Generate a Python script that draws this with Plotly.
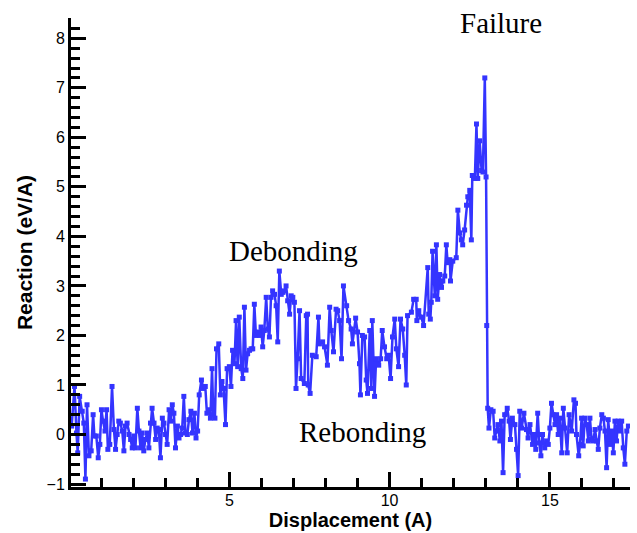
import plotly.graph_objects as go

# Displacement (A) and Reaction (eV/A)
disp = [
    0.08, 0.17, 0.23, 0.27, 0.33, 0.41, 0.46, 0.51, 0.56, 0.62, 0.69, 0.75, 0.79, 0.85, 0.91, 0.96,
    1.01, 1.06, 1.12, 1.17, 1.21, 1.27, 1.34, 1.40, 1.45, 1.50, 1.55, 1.60, 1.66, 1.71, 1.76, 1.81,
    1.87, 1.92, 1.97, 2.02, 2.07, 2.13, 2.18, 2.23, 2.28, 2.33, 2.38, 2.44, 2.49, 2.54, 2.59, 2.65,
    2.70, 2.75, 2.80, 2.85, 2.91, 2.96, 3.01, 3.06, 3.12, 3.17, 3.22, 3.27, 3.32, 3.38, 3.43, 3.48,
    3.53, 3.58, 3.63, 3.69, 3.74,
    3.80, 3.85, 3.91, 3.96, 4.01, 4.06, 4.13, 4.19, 4.25, 4.30, 4.35, 4.41, 4.46, 4.50, 4.55, 4.60,
    4.67, 4.72, 4.77, 4.82, 4.88, 4.93, 5.00, 5.05, 5.10, 5.16, 5.21, 5.26, 5.31, 5.37, 5.42, 5.47,
    5.52, 5.57, 5.63, 5.68, 5.73, 5.78, 5.83, 5.88, 5.94, 5.99, 6.04, 6.09, 6.15, 6.20, 6.25, 6.30,
    6.35, 6.41, 6.46, 6.51, 6.56, 6.62, 6.67, 6.72, 6.77, 6.82, 6.88, 6.93, 6.98, 7.03, 7.08, 7.13,
    7.19,
    7.24, 7.34, 7.40, 7.44, 7.46, 7.52, 7.59, 7.71, 7.78, 7.81, 7.91, 7.97, 8.06, 8.13, 8.18, 8.25,
    8.33, 8.38, 8.44, 8.50, 8.56, 8.66, 8.72, 8.80, 8.84, 8.94, 9.00, 9.06, 9.09, 9.15, 9.22, 9.27,
    9.31, 9.38, 9.43, 9.46, 9.53, 9.58, 9.66, 9.72, 9.77, 9.84, 9.91, 9.97, 10.03, 10.09, 10.16, 10.21,
    10.28, 10.34, 10.41, 10.47, 10.52, 10.56,
    10.68, 10.75, 10.83, 10.85, 10.91, 10.99, 11.06, 11.19, 11.22, 11.27, 11.30, 11.34, 11.41, 11.46,
    11.50, 11.56, 11.62, 11.66, 11.72, 11.77, 11.81, 11.88, 11.90, 11.97, 12.08, 12.13, 12.19, 12.24,
    12.28, 12.34, 12.40, 12.44, 12.50, 12.55, 12.58, 12.66, 12.71, 12.75, 12.81, 12.87, 12.91, 12.97,
    13.01, 13.03, 13.06,
    13.10, 13.16, 13.23, 13.28, 13.33, 13.38, 13.44, 13.49, 13.54, 13.59, 13.67, 13.73, 13.77, 13.83,
    13.91, 13.96, 14.01, 14.06, 14.12, 14.19, 14.27, 14.32, 14.38, 14.46, 14.51, 14.56, 14.62, 14.67,
    14.72, 14.77, 14.84, 14.90, 14.95, 15.00, 15.05, 15.10, 15.16, 15.21, 15.26, 15.31, 15.37, 15.42,
    15.47, 15.54, 15.60, 15.68, 15.75, 15.80, 15.83, 15.90, 15.94, 15.99, 16.04, 16.09, 16.15, 16.20,
    16.25, 16.30, 16.35, 16.41, 16.46, 16.51, 16.56, 16.62, 16.67, 16.72, 16.77, 16.82, 16.88, 16.93,
    16.98, 17.03, 17.08, 17.13, 17.19, 17.24, 17.29, 17.34, 17.40, 17.45,
]
reaction = [
    0.17, 0.97, 0.03, -0.37, 0.77, 0.47, 0.23, -0.9, 0.6, -0.43, -0.33, 0.4, -0.03, -0.03, -0.47, -0.2,
    0.5, 0.27, 0.07, 0.5, -0.3, -0.2, 0.97, 0.1, -0.3, 0.0, 0.27, 0.23, 0.07, -0.33, 0.17, 0.23,
    0.0, -0.1, -0.27, -0.03, -0.27, 0.53, 0.07, -0.27, 0.03, -0.33, -0.1, 0.03, -0.27, 0.23, 0.53, 0.23,
    -0.1, 0.13, 0.1, -0.47, 0.33, 0.23, 0.0, -0.2, 0.5, 0.27, 0.6, 0.43, -0.27, 0.17, -0.07, 0.0,
    0.13, 0.77, 0.03, 0.0, 0.3,
    0.47, 0.03, 0.43, -0.07, 0.07, 0.8, 1.1, 0.93, 0.97, 0.43, 0.5, 0.33, 1.33, 0.4, 0.33, 1.73,
    1.83, 0.8, 1.07, 0.93, 0.2, 1.33, 1.37, 0.97, 1.7, 1.43, 2.3, 1.37, 2.37, 1.33, 1.13, 2.57,
    1.3, 1.63, 1.7, 1.73, 1.73, 2.63, 2.0, 2.07, 2.0, 2.17, 1.77, 2.1, 2.77, 2.13, 1.97, 2.77,
    2.9, 2.83, 2.6, 1.87, 3.3, 2.83, 2.87, 2.9, 3.0, 2.7, 2.43, 2.8, 2.77, 2.67, 0.93, 1.53,
    2.5,
    1.13, 1.03, 2.4, 2.43, 1.0, 0.83, 1.6, 1.57, 2.37, 1.83, 1.87, 1.77, 1.4, 2.57, 2.1, 1.67,
    2.53, 2.5, 2.3, 1.53, 3.0, 2.6, 2.3, 2.13, 1.83, 2.35, 2.07, 1.43, 0.8, 2.0, 1.97, 1.1,
    0.83, 2.1, 0.93, 2.3, 0.77, 1.53, 1.4, 1.53, 2.1, 1.77, 1.53, 1.6, 1.13, 1.97, 2.33, 1.73,
    1.37, 2.33, 2.13, 1.6, 1.0, 2.4,
    2.47, 2.73, 2.73, 2.3, 2.5, 2.37, 2.2, 3.37, 2.43, 2.33, 2.67, 3.7, 2.8, 3.83,
    2.73, 3.23, 2.97, 3.1, 3.2, 3.83, 3.47, 3.53, 3.1, 3.5, 3.57, 4.53, 4.07, 3.93,
    3.83, 4.13, 4.63, 4.8, 4.93, 3.93, 5.23, 5.17, 6.27, 5.17, 5.93, 5.33, 5.3, 7.2,
    5.2, 2.2, 0.53,
    0.13, 0.5, 0.47, -0.07, 0.07, 0.2, -0.13, 0.27, -0.77, 0.4, 0.53, 0.27, -0.1, 0.33,
    0.2, -0.3, -0.83, 0.47, 0.13, 0.43, 0.1, -0.07, 0.2, -0.2, 0.0, -0.3, 0.43, -0.17,
    -0.43, 0.0, -0.27, -0.13, -0.2, 0.13, 0.63, 0.4, 0.2, 0.4, 0.0, 0.33, -0.37, 0.53,
    0.13, -0.37, 0.4, 0.07, 0.7, 0.63, 0.0, -0.43, -0.2, 0.33, -0.23, 0.33, 0.2, -0.13,
    0.33, -0.1, -0.13, 0.1, -0.13, -0.3, 0.13, 0.4, 0.33, 0.07, -0.67, 0.3, -0.2, 0.07,
    -0.37, 0.27, -0.13, 0.27, 0.07, 0.27, -0.27, -0.6, 0.07, 0.17,
]

x_ticks = [5, 10, 15]
y_ticks = [-1, 0, 1, 2, 3, 4, 5, 6, 7, 8]

labels = ["Failure", "Debonding", "Rebonding"]
label_x = [13.49, 7.01, 9.15]
label_y = [8.3, 3.71, 0.05]

fig = go.Figure()
fig.add_trace(go.Scatter(
    x=disp, y=reaction, mode="lines+markers",
    line=dict(color="#3434ff", width=2.5),
    marker=dict(symbol="square", size=5, color="#3434ff"),
    showlegend=False,
))

for t, ax_, ay_ in zip(labels, label_x, label_y):
    fig.add_annotation(x=ax_, y=ay_, text=t, showarrow=False,
                       xanchor="center", yanchor="middle",
                       font=dict(family="Liberation Serif", size=29, color="black"))

axis_common = dict(
    showline=True, linecolor="black", linewidth=3, mirror=False,
    showgrid=False, zeroline=False,
    ticks="inside", ticklen=15, tickwidth=3, tickcolor="black",
    tickfont=dict(family="Liberation Sans", size=16, color="black"),
)

fig.update_xaxes(
    range=[0.06, 17.5], tickmode="array", tickvals=x_ticks,
    ticklabelstandoff=-3,
    minor=dict(ticks="inside", ticklen=9, tickwidth=3, tickcolor="black", dtick=1, tick0=0),
    title=dict(text="Displacement (A)", standoff=5,
               font=dict(family="Liberation Sans", size=20, color="black", weight="bold")),
    **axis_common,
)
fig.update_yaxes(
    range=[-1.06, 8.41], tickmode="array", tickvals=y_ticks,
    minor=dict(ticks="inside", ticklen=9, tickwidth=3, tickcolor="black", dtick=0.2, tick0=0),
    title=dict(text="Reaction (eV/A)", standoff=9,
               font=dict(family="Liberation Sans", size=21, color="black", weight="bold")),
    **axis_common,
)

fig.update_layout(
    width=637, height=533,
    margin=dict(l=71, r=7, t=18, b=46, autoexpand=False),
    plot_bgcolor="white", paper_bgcolor="white",
)

fig.write_html("out.html")
